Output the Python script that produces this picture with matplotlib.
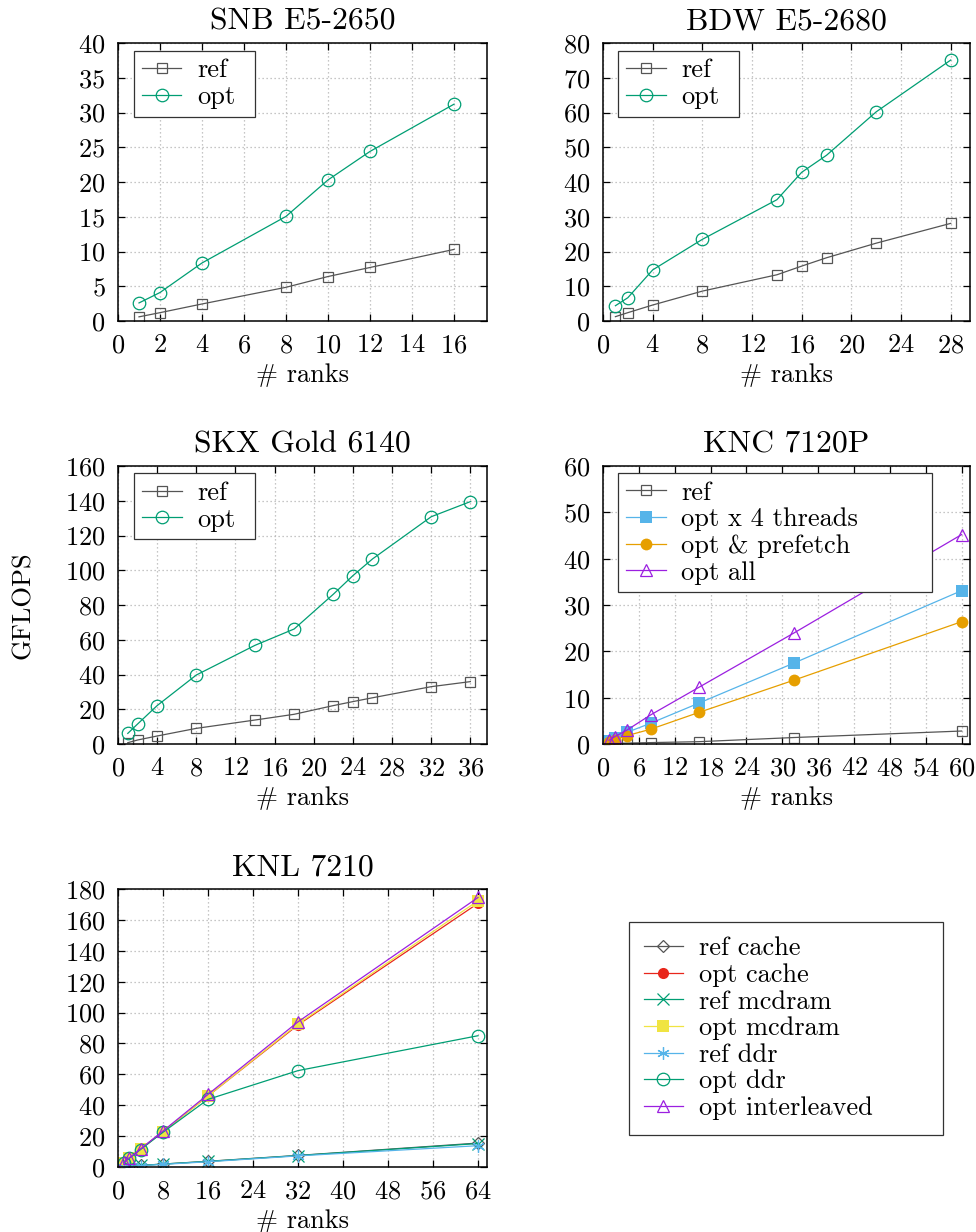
import matplotlib
matplotlib.use('Agg')
import matplotlib.pyplot as plt

plt.rcParams['font.family'] = ['cmr10', 'DejaVu Serif']
plt.rcParams['axes.formatter.use_mathtext'] = True
plt.rcParams['font.size'] = 19

# colours
GRAY = '#555555'
GREEN = '#009e73'
SKY = '#56b4e9'
ORANGE = '#e69f00'
PURPLE = '#9b1fe0'
RED = '#e8261b'
YELLOW = '#f0e442'

# SNB E5-2650
snb_ranks = [1, 2, 4, 8, 10, 12, 16]
snb_ref = [0.6, 1.2, 2.45, 4.85, 6.4, 7.7, 10.3]
snb_opt = [2.6, 4.1, 8.35, 15.05, 20.3, 24.4, 31.2]

# BDW E5-2680
bdw_ranks = [1, 2, 4, 8, 14, 16, 18, 22, 28]
bdw_ref = [1.25, 2.4, 4.6, 8.6, 13.3, 15.8, 18.2, 22.4, 28.1]
bdw_opt = [4.4, 6.7, 14.7, 23.5, 34.9, 42.8, 47.7, 60.2, 75.1]

# SKX Gold 6140
skx_ranks = [1, 2, 4, 8, 14, 18, 22, 24, 26, 32, 36]
skx_ref = [0.75, 2.3, 4.6, 9.0, 13.8, 17.1, 22.1, 24.4, 26.6, 33.0, 35.9]
skx_opt = [6.1, 11.5, 22.1, 39.7, 56.8, 66.2, 86.2, 96.9, 106.5, 130.8, 139.5]

# KNC 7120P
knc_ranks = [1, 2, 4, 8, 16, 32, 60]
knc_ref = [0.05, 0.1, 0.2, 0.3, 0.5, 1.4, 2.8]
knc_opt4 = [0.6, 1.2, 2.5, 4.5, 8.8, 17.5, 33.1]
knc_pref = [0.4, 0.9, 1.8, 3.2, 6.8, 13.8, 26.4]
knc_all = [0.8, 1.6, 3.0, 6.3, 12.2, 24.0, 45.2]

# KNL 7210
knl_ranks = [1, 2, 4, 8, 16, 32, 64]
knl_ref_cache = [0.3, 0.6, 1.0, 1.9, 3.7, 7.5, 15.5]
knl_opt_cache = [2.9, 5.8, 11.5, 23.0, 46.0, 92.0, 170.7]
knl_ref_mcdram = [0.3, 0.6, 1.0, 1.9, 3.6, 7.4, 15.2]
knl_opt_mcdram = [2.9, 5.7, 11.4, 22.9, 46.0, 92.6, 172.4]
knl_ref_ddr = [0.25, 0.5, 0.9, 1.7, 3.4, 7.2, 13.8]
knl_opt_ddr = [2.8, 5.6, 11.3, 22.5, 43.8, 62.4, 85.0]
knl_opt_il = [3.0, 5.9, 11.7, 23.3, 47.0, 94.0, 174.5]

W, H = 976, 1232
fig = plt.figure(figsize=(W / 100, H / 100), dpi=100)


def make_axes(left, right, top, bottom):
    return fig.add_axes([left / W, 1 - bottom / H, (right - left) / W, (bottom - top) / H])


def style(ax, title, xlim, xstep, ylim, ystep):
    ax.set_title(title, pad=10)
    ax.set_xlim(*xlim)
    ax.set_ylim(*ylim)
    ax.set_xticks(range(0, int(xlim[1]) + 1, xstep))
    ax.set_yticks(range(ylim[0], ylim[1] + 1, ystep))
    ax.grid(True, color='#b4b4b4', linestyle=(0, (1, 2.2)), linewidth=0.9)
    ax.set_axisbelow(True)
    ax.tick_params(direction='in', top=True, right=True, length=5, width=0.9, pad=9)
    for s in ax.spines.values():
        s.set_linewidth(1.1)
    ax.set_xlabel('# ranks', labelpad=4)


LEG = dict(fancybox=False, framealpha=1, edgecolor='#333333', mode='expand',
           handlelength=1.5, labelspacing=0.11, handletextpad=0.6, borderpad=0.3,
           borderaxespad=0)


def legend(ax, x, y, w):
    leg = ax.legend(loc='upper left', bbox_to_anchor=(x, y, w, 0), **LEG)
    leg.get_frame().set_linewidth(0.9)
    return leg


lw = 0.9
opn = dict(markerfacecolor='none', markeredgewidth=0.9)

ax1 = make_axes(118, 487, 43, 321)
ax1.plot(snb_ranks, snb_ref, color=GRAY, lw=lw, marker='s', ms=7.5, label='ref', **opn)
ax1.plot(snb_ranks, snb_opt, color=GREEN, lw=lw, marker='o', ms=9, label='opt', **opn)
style(ax1, 'SNB E5-2650', (0, 17.57), 2, (0, 40), 5)
legend(ax1, 0.043, 0.972, 0.328)

ax2 = make_axes(603, 970, 43, 321)
ax2.plot(bdw_ranks, bdw_ref, color=GRAY, lw=lw, marker='s', ms=7.5, label='ref', **opn)
ax2.plot(bdw_ranks, bdw_opt, color=GREEN, lw=lw, marker='o', ms=9, label='opt', **opn)
style(ax2, 'BDW E5-2680', (0, 29.55), 4, (0, 80), 10)
legend(ax2, 0.042, 0.972, 0.329)

ax3 = make_axes(118, 487, 466, 744)
ax3.plot(skx_ranks, skx_ref, color=GRAY, lw=lw, marker='s', ms=7.5, label='ref', **opn)
ax3.plot(skx_ranks, skx_opt, color=GREEN, lw=lw, marker='o', ms=9, label='opt', **opn)
style(ax3, 'SKX Gold 6140', (0, 37.7), 4, (0, 160), 20)
legend(ax3, 0.044, 0.974, 0.328)

ax4 = make_axes(603, 970, 466, 744)
ax4.plot(knc_ranks, knc_ref, color=GRAY, lw=lw, marker='s', ms=7.5, label='ref', **opn)
ax4.plot(knc_ranks, knc_opt4, color=SKY, lw=lw, marker='s', ms=8.5, markeredgewidth=0,
         label='opt x 4 threads')
ax4.plot(knc_ranks, knc_pref, color=ORANGE, lw=lw, marker='o', ms=8.5, markeredgewidth=0,
         label='opt & prefetch')
ax4.plot(knc_ranks, knc_all, color=PURPLE, lw=lw, marker='^', ms=9, label='opt all', **opn)
style(ax4, 'KNC 7120P', (0, 61.4), 6, (0, 60), 10)
legend(ax4, 0.041, 0.975, 0.856)

ax5 = make_axes(118, 487, 889, 1167)
ax5.plot(knl_ranks, knl_ref_cache, color=GRAY, lw=lw, marker='D', ms=6, label='ref cache', **opn)
ax5.plot(knl_ranks, knl_opt_cache, color=RED, lw=lw, marker='o', ms=8, markeredgewidth=0,
         label='opt cache')
ax5.plot(knl_ranks, knl_ref_mcdram, color=GREEN, lw=lw, marker='x', ms=8, markeredgewidth=0.9,
         label='ref mcdram')
ax5.plot(knl_ranks, knl_opt_mcdram, color=YELLOW, lw=lw, marker='s', ms=8.5, markeredgewidth=0,
         label='opt mcdram')
ax5.plot(knl_ranks, knl_ref_ddr, color=SKY, lw=lw, marker=(6, 2, 0), ms=9, markeredgewidth=0.9,
         label='ref ddr')
ax5.plot(knl_ranks, knl_opt_ddr, color=GREEN, lw=lw, marker='o', ms=9, label='opt ddr', **opn)
ax5.plot(knl_ranks, knl_opt_il, color=PURPLE, lw=lw, marker='^', ms=9, label='opt interleaved', **opn)
style(ax5, 'KNL 7210', (0, 65.6), 8, (0, 180), 20)

h, l = ax5.get_legend_handles_labels()
knl_leg = dict(LEG, borderpad=0.55)
leg = fig.legend(h, l, loc='upper left', bbox_to_anchor=(629 / W, 1 - 922 / H, 314 / W, 0),
                 **knl_leg)
leg.get_frame().set_linewidth(0.9)

fig.text(23 / W, 1 - 605 / H, 'GFLOPS', rotation=90, ha='center', va='center')

fig.savefig('out.png', dpi=100)
